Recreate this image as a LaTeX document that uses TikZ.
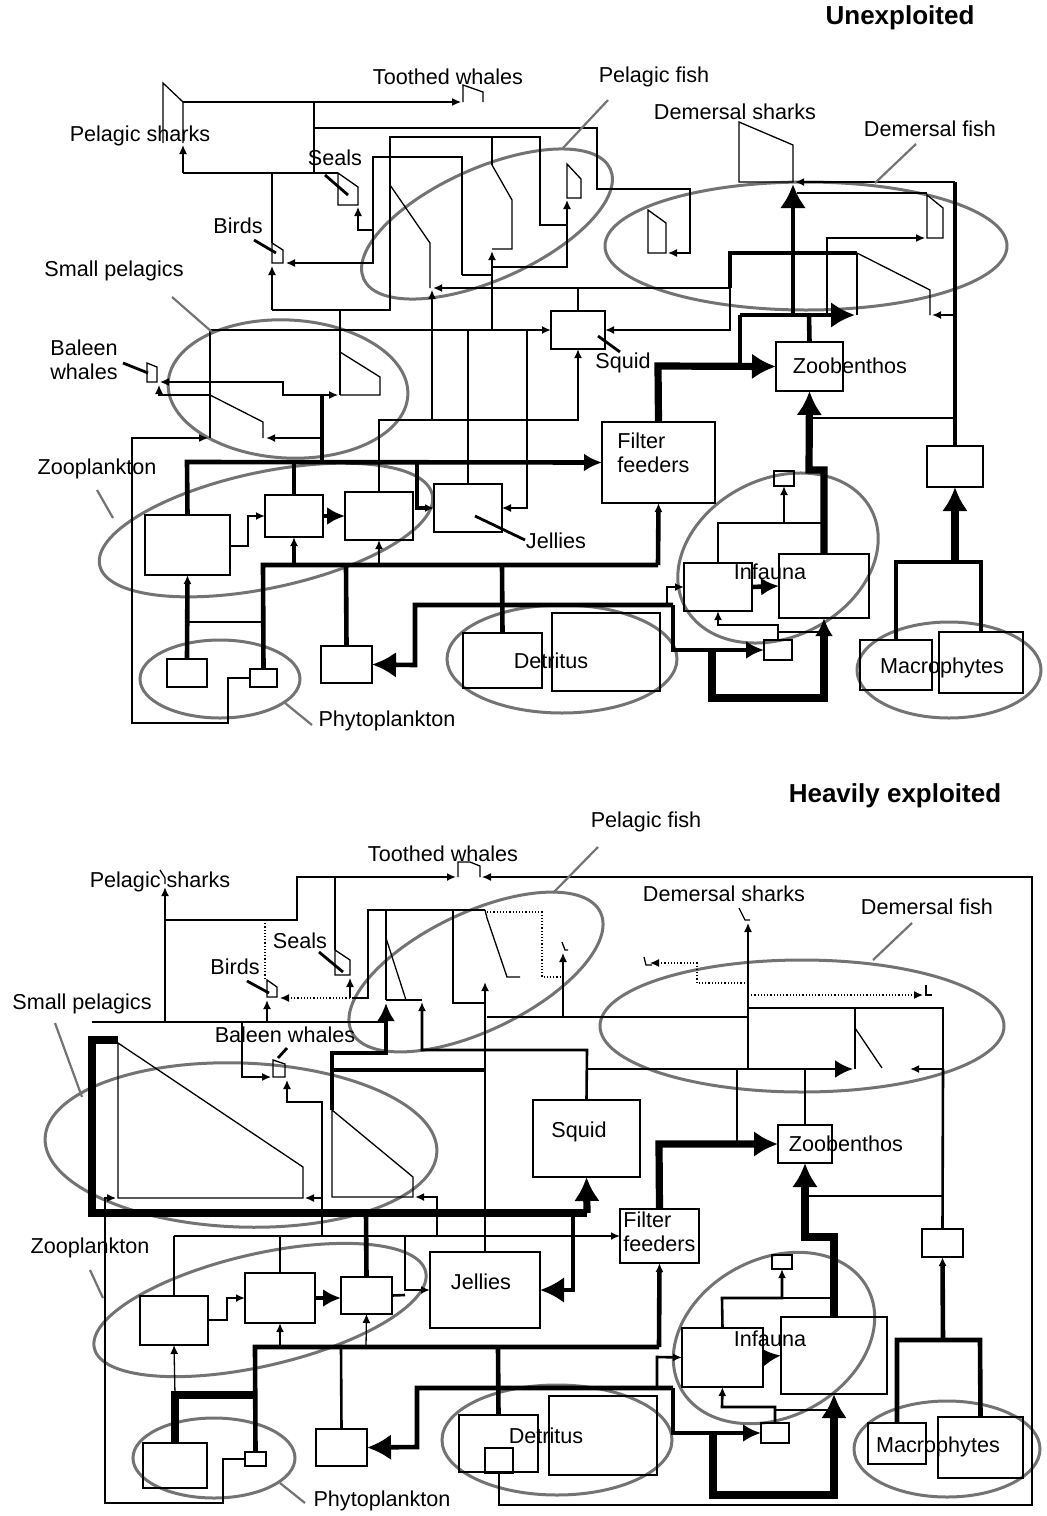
\documentclass[tikz,border=0pt]{standalone}
\usepackage{fontspec}
\setmainfont{Liberation Sans}
\usetikzlibrary{arrows.meta,fit}
\colorlet{GroupColor}{black!55}
\newcommand{\LabelSize}{\fontsize{10.8}{12}\selectfont}
\newcommand{\TitleSize}{\fontsize{13}{15}\selectfont\bfseries}
\newcommand{\CompBox}[5]{\node[comp, fit={(#2,#3) (#4,#5)}] (#1) {};}
\newcommand{\FoodGroup}[5]{\draw[grp, rotate around={#5:(#1,#2)}] (#1,#2) ellipse [x radius=#3, y radius=#4];}

\begin{document}
\begin{tikzpicture}[x=0.5pt, y=-0.5pt,
	comp/.style={draw, line width=0.65pt, inner sep=0pt, outer sep=0pt},
	grp/.style={draw=GroupColor, line width=1.5pt},
	lead/.style={draw=GroupColor, line width=1.1pt},
	ptr/.style={line width=1.4pt},
	shp/.style={line width=0.65pt},
	fl/.style={line width=0.65pt},
	fm/.style={line width=1.3pt},
	ft/.style={line width=2.3pt},
	fv/.style={line width=3.6pt},
	dotln/.style={line width=0.6pt, densely dotted},
	arS/.style={-{Latex[length=4.5pt,width=4pt]}},
	arM/.style={-{Latex[length=9pt,width=9pt]}},
	arL/.style={-{Latex[length=12pt,width=13pt]}},
	lbl/.style={font=\LabelSize, inner sep=0pt},
	ttl/.style={font=\TitleSize, inner sep=0pt}]
	\useasboundingbox (0,0) rectangle (1046,1516);
	
	% ---------------- Unexploited ----------------
	\node[ttl] (ttlA) at (900,18) {Unexploited};
	
	\FoodGroup{487}{224}{135}{56}{24}
	\FoodGroup{806}{246}{201}{64}{0}
	\FoodGroup{288}{389}{120}{69}{-3}
	\FoodGroup{266}{530}{170}{58}{12}
	\FoodGroup{220}{679}{80}{39}{0}
	\FoodGroup{562}{659}{115}{54}{0}
	\FoodGroup{778}{558}{105}{79}{27}
	\FoodGroup{949}{670}{92}{48}{0}
	
	\CompBox{sqA}{551}{311}{605}{349}
	\CompBox{zbA}{776}{342}{843}{391}
	\CompBox{ffA}{602}{422}{715}{503}
	\CompBox{mgA}{927}{446}{983}{487}
	\CompBox{z1A}{145}{515}{230}{575}
	\CompBox{z2A}{265}{495}{323}{537}
	\CompBox{z3A}{345}{492}{413}{540}
	\CompBox{jeA}{434}{484}{502}{532}
	\CompBox{p1A}{167}{659}{207}{687}
	\CompBox{p2A}{250}{669}{277}{687}
	\CompBox{bxA}{321}{646}{372}{683}
	\CompBox{d1A}{463}{633}{542}{688}
	\CompBox{d2A}{552}{613}{660}{691}
	\CompBox{i1A}{684}{563}{752}{611}
	\CompBox{i2A}{779}{554}{869}{618}
	\CompBox{i3A}{774}{471}{794}{486}
	\CompBox{i4A}{764}{640}{792}{660}
	\CompBox{m1A}{860}{640}{932}{690}
	\CompBox{m2A}{939}{632}{1023}{693}
	
	\draw[shp] (163,143) -- (163,83) -- (183,102) -- (183,143);
	\draw[shp] (463,102) -- (463,85) -- (483,92) -- (483,102);
	\draw[shp] (338,173) -- (358,187) -- (358,205) -- (338,205) -- cycle;
	\draw[shp] (272,243) -- (283,250) -- (283,263) -- (272,263) -- cycle;
	\draw[shp] (147,363) -- (157,367) -- (157,382) -- (147,382) -- cycle;
	\draw[shp] (390,185) -- (430,243) -- (430,288);
	\draw[shp] (492,165) -- (512,200) -- (512,249) -- (492,249);
	\draw[shp] (567,164) -- (581,179) -- (581,198) -- (567,198) -- cycle;
	\draw[shp] (739,122) -- (793,145) -- (793,182) -- (739,182) -- cycle;
	\draw[shp] (648,210) -- (666,223) -- (666,253) -- (648,253) -- cycle;
	\draw[shp] (927,195) -- (943,208) -- (943,238) -- (927,238) -- cycle;
	\draw[shp] (857,253) -- (930,290) -- (930,315);
	\draw[shp] (340,352) -- (380,377) -- (380,395) -- (340,395);
	\draw[shp] (210,395) -- (263,422) -- (263,438);
	
	\draw[fl,arS] (183,102) -- (461,102);
	\draw[fl] (314,102) -- (314,173);
	\draw[fl] (338,173) -- (183,173);
	\draw[fl,arS] (183,173) -- (183,145);
	\draw[fl] (272,173) -- (272,243);
	\draw[fl,arS] (314,128) -- (597,128) -- (597,189) -- (690,189) -- (690,253) -- (668,253);
	\draw[fl,arS] (390,288) -- (390,137) -- (540,137) -- (540,225) -- (567,225) -- (567,200);
	\draw[fl] (492,137) -- (492,165);
	\draw[fl] (492,267) -- (567,267) -- (567,225);
	\draw[fl,arS] (373,230) -- (358,230) -- (358,207);
	\draw[fl,arS] (462,275) -- (462,157) -- (373,157) -- (373,263) -- (286,263);
	\draw[fl] (462,275) -- (492,275);
	\draw[fl,arS] (272,310) -- (272,266);
	\draw[fl] (272,310) -- (340,310);
	\draw[fm] (390,288) -- (390,310) -- (340,310) -- (340,330);
	\draw[fm,arS] (730,288) -- (433,288);
	\draw[fl,arS] (432,420) -- (432,290);
	\draw[fm,arS] (492,330) -- (492,251);
	\draw[fm] (578,288) -- (sqA.north);
	\draw[fm,arS] (210,330) -- (sqA.west);
	\draw[fm,arS] (730,288) -- (730,330) -- (sqA.east);
	\draw[fm] (210,330) -- (210,438);
	\draw[fm] (340,330) -- (340,395);
	\draw[fl] (468,330) -- (jeA.north);
	\draw[fl,arS] (527,330) -- (527,508) -- (jeA.east);
	\draw[fm,arS] (z3A.north) -- (379,420) -- (578,420) -- (sqA.south);
	
	\draw[ft] (322,395) -- (322,462);
	\draw[fl,arS] (322,395) -- (338,395);
	\draw[fm,arS] (322,438) -- (266,438);
	\draw[fl,arS] (322,395) -- (283,395) -- (283,382) -- (160,382);
	\draw[fl,arS] (210,395) -- (159,395) -- (159,385);
	\draw[fl,arS] (p2A.west) -- (228,678) -- (228,723) -- (132,723) -- (132,438) -- (208,438);
	
	\draw[ft,arM] (z1A.north) -- (187,462) -- (ffA.west);
	\draw[ft] (z2A.north) -- (294,462);
	\draw[ft,arS] (417,462) -- (417,508) -- (jeA.west);
	\draw[fm,arS] (230,546) -- (248,546) -- (248,516) -- (z2A.west);
	\draw[ft,arM] (z2A.east) -- (z3A.west);
	\draw[ft,arS] (p1A.north) -- (z1A.south);
	\draw[fm] (187,622) -- (263,622);
	\draw[ft] (p2A.north) -- (263,565) -- (658,565);
	\draw[ft,arS] (658,565) -- (ffA.south);
	\draw[ft,arS] (294,565) -- (z2A.south);
	\draw[fm,arS] (379,565) -- (z3A.south);
	\draw[ft] (346,565) -- (bxA.north);
	\draw[ft] (502,565) -- (d1A.north);
	
	\draw[ft,arL] (673,605) -- (415,605) -- (415,665) -- (bxA.east);
	\draw[ft,arM] (673,605) -- (673,650) -- (i4A.west);
	\draw[fm,arS] (667,605) -- (667,587) -- (i1A.west);
	\draw[fv,arM] (712,650) -- (712,698) -- (824,698) -- (i2A.south);
	\draw[ft,arM] (i1A.east) -- (i2A.west);
	\draw[fm,arS] (i1A.north) -- (718,523) -- (784,523) -- (i3A.south);
	\draw[fm] (784,523) -- (824,523);
	\draw[fv,arL] (i2A.north) -- (824,470) -- (809,470) -- (zbA.south);
	\draw[fm,arS] (i4A.north) -- (778,625) -- (718,625) -- (i1A.south);
	\draw[fm] (778,632) -- (824,632);
	
	\draw[fv,arL] (ffA.north) -- (658,366) -- (zbA.west);
	\draw[ft] (740,366) -- (740,315);
	\draw[ft] (zbA.north) -- (809,315);
	\draw[ft,arL] (740,315) -- (855,315);
	\draw[ft,arL] (793,315) -- (793,184);
	\draw[fm,arS] (955,315) -- (932,315);
	\draw[ft] (mgA.north) -- (955,182);
	\draw[fm,arS] (955,182) -- (795,182);
	\draw[fl] (955,418) -- (809,418);
	\draw[fl] (797,193) -- (927,193);
	\draw[fl,arS] (827,315) -- (827,238) -- (925,238);
	\draw[ft] (730,288) -- (730,253) -- (857,253);
	\draw[fl] (857,253) -- (857,315);
	\draw[ft] (m1A.north) -- (896,562) -- (981,562) -- (m2A.north);
	\draw[fv,arL] (955,562) -- (mgA.south);
	
	\draw[ptr] (325,175) -- (348,195);
	\draw[ptr] (254,240) -- (276,253);
	\draw[ptr] (123,363) -- (148,373);
	\draw[ptr] (598,336) -- (620,352);
	\draw[ptr] (475,516) -- (525,540);
	\draw[lead] (608,100) -- (563,148);
	\draw[lead] (916,144) -- (875,183);
	\draw[lead] (172,297) -- (212,332);
	\draw[lead] (97,490) -- (113,518);
	\draw[lead] (285,703) -- (312,725);
	
	\node[lbl] (twA) at (448,77) {Toothed whales};
	\node[lbl] (pfA) at (654,77) {Pelagic fish};
	\node[lbl] (dsA) at (735,112) {Demersal sharks};
	\node[lbl] (dfA) at (930,129) {Demersal fish};
	\node[lbl] (psA) at (140,136) {Pelagic sharks};
	\node[lbl] (seA) at (335,158) {Seals};
	\node[lbl] (biA) at (238,226) {Birds};
	\node[lbl] (spA) at (114,271) {Small pelagics};
	\node[lbl, align=left] (bwA) at (84,360) {Baleen\\whales};
	\node[lbl] (sqlA) at (623,363) {Squid};
	\node[lbl] (zblA) at (850,366) {Zoobenthos};
	\node[lbl, align=left, anchor=west] (fflA) at (617,453) {Filter\\feeders};
	\node[lbl] (zpA) at (97,469) {Zooplankton};
	\node[lbl] (jelA) at (556,541) {Jellies};
	\node[lbl] (inA) at (770,572) {Infauna};
	\node[lbl] (deA) at (551,661) {Detritus};
	\node[lbl] (maA) at (942,668) {Macrophytes};
	\node[lbl] (phA) at (387,721) {Phytoplankton};
	
	% ---------------- Heavily exploited ----------------
	\node[ttl] (ttlB) at (895,796) {Heavily exploited};
	
	\FoodGroup{476}{972}{138}{59}{25.6}
	\FoodGroup{802}{1026}{202}{66}{0}
	\FoodGroup{241}{1145}{196}{82}{-2}
	\FoodGroup{260}{1310}{170}{56}{13}
	\FoodGroup{214}{1458}{81}{40}{0}
	\FoodGroup{557}{1440}{115}{55}{0}
	\FoodGroup{774}{1338}{106}{79}{28}
	\FoodGroup{947}{1449}{93}{48}{0}
	
	\CompBox{sqB}{533}{1100}{640}{1177}
	\CompBox{zbB}{778}{1125}{832}{1163}
	\CompBox{ffB}{620}{1209}{699}{1263}
	\CompBox{jeB}{430}{1252}{540}{1328}
	\CompBox{z1B}{140}{1296}{208}{1345}
	\CompBox{z2B}{245}{1273}{315}{1323}
	\CompBox{z3B}{341}{1277}{392}{1314}
	\CompBox{p1B}{143}{1443}{207}{1488}
	\CompBox{p2B}{245}{1452}{266}{1466}
	\CompBox{bxB}{316}{1429}{367}{1466}
	\CompBox{d1B}{459}{1415}{538}{1472}
	\CompBox{d3B}{485}{1448}{513}{1473}
	\CompBox{d2B}{549}{1396}{657}{1475}
	\CompBox{i1B}{682}{1328}{763}{1387}
	\CompBox{i2B}{781}{1317}{887}{1394}
	\CompBox{i3B}{772}{1255}{792}{1269}
	\CompBox{i4B}{761}{1423}{789}{1443}
	\CompBox{mgB}{922}{1229}{963}{1257}
	\CompBox{m1B}{868}{1423}{926}{1464}
	\CompBox{m2B}{938}{1417}{1023}{1478}
	
	\draw[shp] (160,870) -- (165,878) -- (165,884);
	\draw[shp] (458,877) -- (458,862) -- (470,862) -- (480,866) -- (480,877);
	\draw[shp] (335,950) -- (350,960) -- (350,975) -- (335,975) -- cycle;
	\draw[shp] (267,980) -- (277,987) -- (277,997) -- (267,997) -- cycle;
	\draw[shp] (273,1060) -- (285,1064) -- (285,1077) -- (273,1077) -- cycle;
	\draw[shp] (386,938) -- (406,1000);
	\draw[fl] (386,1000) -- (422,1000);
	\draw[fl] (453,910) -- (453,1003) -- (485,1003);
	\draw[shp] (485,910) -- (487,918) -- (507,977) -- (520,977);
	\draw[shp] (562,942) -- (565,950) -- (568,950);
	\draw[shp] (739,908) -- (745,920) -- (750,920);
	\draw[shp] (644,957) -- (646,965) -- (652,965);
	\draw[shp] (926,985) -- (926,995) -- (932,995);
	\draw[shp] (855,1028) -- (882,1068);
	\draw[shp] (118,1198) -- (118,1043) -- (303,1167) -- (303,1198) -- cycle;
	\draw[shp] (332,1110) -- (332,1197) -- (413,1197) -- (413,1177) -- (332,1110);
	
	\draw[fl,arS] (d3B.south) -- (499,1505) -- (1032,1505) -- (1032,877) -- (482,877);
	\draw[fm,arS] (165,1022) -- (165,887);
	\draw[fm,arS] (165,920) -- (297,920) -- (297,877) -- (456,877);
	\draw[fl] (335,877) -- (335,950);
	\draw[dotln] (265,920) -- (265,980);
	\draw[dotln,arS] (353,998) -- (280,998);
	\draw[fl] (352,998) -- (368,998) -- (368,910) -- (485,910);
	\draw[fl,arS] (350,998) -- (350,978);
	\draw[fl] (386,910) -- (386,1000);
	\draw[ft,arM] (332,1110) -- (332,1053) -- (386,1053) -- (386,1003);
	\draw[ft] (332,1070) -- (485,1070);
	\draw[fm,arS] (sqB.north) -- (587,1050) -- (422,1050) -- (422,1002);
	\draw[fm,arS] (jeB.north) -- (485,982);
	\draw[dotln] (487,912) -- (542,912) -- (542,977) -- (563,977);
	\draw[fl,arS] (563,1017) -- (563,953);
	\draw[fl] (487,1017) -- (748,1017);
	\draw[fl,arS] (748,1069) -- (748,923);
	\draw[dotln,arS] (748,995) -- (923,995);
	\draw[dotln,arS] (748,983) -- (697,983) -- (697,963) -- (650,963);
	\draw[fl] (748,1008) -- (943,1008) -- (943,1069);
	\draw[fl] (855,1008) -- (855,1069);
	\draw[fm,arM] (587,1069) -- (853,1069);
	\draw[fm,arS] (943,1069) -- (910,1069);
	\draw[fm] (mgB.north) -- (943,1069);
	\draw[fl] (943,1196) -- (805,1196);
	\draw[fm] (737,1069) -- (737,1143);
	\draw[fv,arL] (ffB.north) -- (659,1144) -- (zbB.west);
	\draw[fm] (zbB.north) -- (805,1069);
	\draw[fv,arL] (i2B.north) -- (834,1237) -- (805,1237) -- (zbB.south);
	
	\draw[fv] (118,1040) -- (92,1040) -- (92,1213) -- (587,1213);
	\draw[fv,arL] (587,1213) -- (sqB.south);
	\draw[fm] (92,1022) -- (387,1022);
	\draw[fm,arS] (267,1022) -- (267,1000);
	\draw[fl,arS] (242,1022) -- (242,1077) -- (271,1077);
	\draw[fl,arS] (322,1213) -- (322,1102) -- (287,1102) -- (287,1080);
	\draw[fl,arS] (322,1198) -- (305,1198);
	\draw[fm,arS] (437,1237) -- (437,1197) -- (415,1197);
	\draw[ft,arL] (573,1213) -- (573,1290) -- (jeB.east);
	\draw[fm,arS] (174,1236) -- (ffB.west);
	\draw[fm] (z1B.north) -- (174,1236);
	\draw[fm] (z2B.north) -- (280,1236);
	\draw[ft] (z3B.north) -- (366,1213);
	\draw[fm] (322,1213) -- (322,1236);
	\draw[fm,arS] (405,1236) -- (405,1290) -- (jeB.west);
	\draw[fm] (z3B.east) -- (405,1295);
	\draw[fm,arS] (208,1320) -- (227,1320) -- (227,1298) -- (z2B.west);
	\draw[ft,arM] (z2B.east) -- (z3B.west |- z2B.east);
	
	\draw[fv] (p1B.north) -- (175,1395) -- (255,1395);
	\draw[fl,arS] (175,1395) -- (z1B.south);
	\draw[ft] (p2B.north) -- (255,1347) -- (659,1347);
	\draw[ft,arS] (659,1347) -- (ffB.south);
	\draw[fm,arS] (280,1347) -- (z2B.south);
	\draw[fl,arS] (366,1347) -- (z3B.south);
	\draw[fm] (341,1347) -- (bxB.north);
	\draw[ft] (498,1347) -- (d1B.north);
	\draw[ft,arL] (673,1388) -- (417,1388) -- (417,1447) -- (bxB.east);
	\draw[ft,arM] (673,1388) -- (673,1433) -- (i4B.west);
	\draw[fm,arS] (657,1388) -- (657,1357) -- (i1B.west);
	\draw[fv,arL] (713,1433) -- (713,1495) -- (834,1495) -- (i2B.south);
	\draw[ft,arM] (i1B.east) -- (i2B.west);
	\draw[fm,arS] (i1B.north) -- (722,1298) -- (782,1298) -- (i3B.south);
	\draw[fm] (782,1298) -- (834,1298);
	\draw[fm,arS] (i4B.north) -- (775,1407) -- (722,1407) -- (i1B.south);
	\draw[fm] (775,1410) -- (834,1410);
	\draw[ft] (m1B.north) -- (897,1340) -- (980,1340) -- (m2B.north);
	\draw[ft,arS] (943,1340) -- (mgB.south);
	\draw[fl,arS] (p2B.west) -- (223,1459) -- (223,1503) -- (105,1503) -- (105,1198) -- (116,1198);
	
	\draw[ptr] (319,952) -- (343,972);
	\draw[ptr] (247,981) -- (269,993);
	\draw[ptr] (287,1048) -- (278,1058);
	\draw[lead] (598,847) -- (553,893);
	\draw[lead] (912,923) -- (873,960);
	\draw[lead] (55,1023) -- (82,1097);
	\draw[lead] (90,1270) -- (103,1298);
	\draw[lead] (280,1483) -- (305,1503);
	
	\node[lbl] (pfB) at (646,822) {Pelagic fish};
	\node[lbl] (twB) at (443,854) {Toothed whales};
	\node[lbl] (psB) at (160,882) {Pelagic sharks};
	\node[lbl] (dsB) at (724,894) {Demersal sharks};
	\node[lbl] (dfB) at (927,907) {Demersal fish};
	\node[lbl] (seB) at (300,941) {Seals};
	\node[lbl] (biB) at (235,967) {Birds};
	\node[lbl] (spB) at (82,1004) {Small pelagics};
	\node[lbl] (bwB) at (285,1035) {Baleen whales};
	\node[lbl] (sqlB) at (579,1132) {Squid};
	\node[lbl] (zblB) at (846,1144) {Zoobenthos};
	\node[lbl, align=left, anchor=west] (fflB) at (623,1232) {Filter\\feeders};
	\node[lbl] (zpB) at (90,1248) {Zooplankton};
	\node[lbl] (jelB) at (481,1282) {Jellies};
	\node[lbl] (inB) at (770,1339) {Infauna};
	\node[lbl] (deB) at (546,1436) {Detritus};
	\node[lbl] (maB) at (938,1447) {Macrophytes};
	\node[lbl] (phB) at (382,1501) {Phytoplankton};
\end{tikzpicture}
\end{document}
